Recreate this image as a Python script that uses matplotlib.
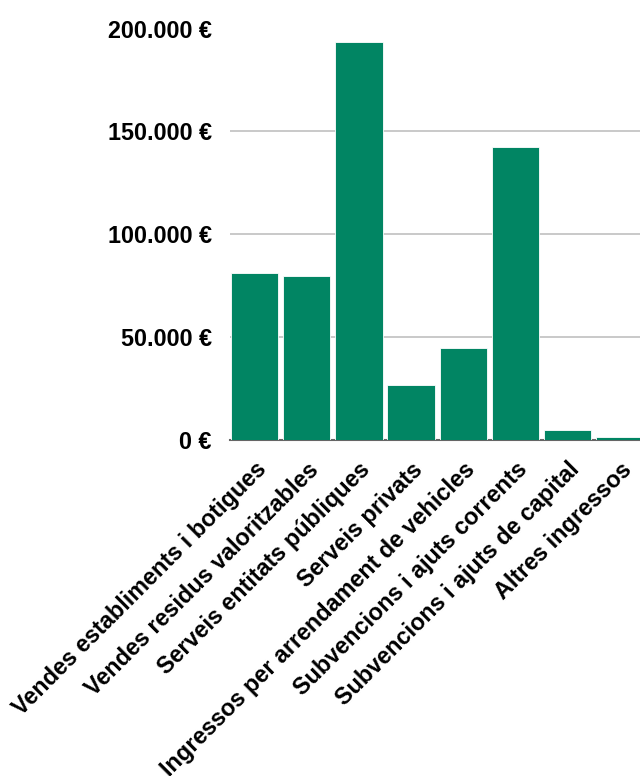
import matplotlib as mpl
mpl.use('Agg')

import matplotlib.pyplot as plt
import matplotlib.ticker as mticker
import numpy as np

plt.rcParams['font.family'] = ['Liberation Sans', 'DejaVu Sans']

# dades
categories = ['Vendes establiments i botigues', 'Vendes residus valoritzables',
              'Serveis entitats públiques', 'Serveis privats',
              'Ingressos per arrendament de vehicles', 'Subvencions i ajuts corrents',
              'Subvencions i ajuts de capital', 'Altres ingressos']
values = [81300, 79600, 193600, 26600, 44900, 142400, 4900, 1300]
yticks = [0, 50000, 100000, 150000, 200000]

bar_color = '#018563'

fig = plt.figure(figsize=(6.4, 7.76), dpi=100)
ax = fig.add_axes([230 / 640, 336 / 776, 410 / 640, 411.5 / 776])

index = np.arange(len(values))
ax.bar(index, values, 0.91, color=bar_color, edgecolor='white', linewidth=0.6, zorder=2)

ax.set_xlim(-0.47, -0.47 + 410 / 52.2)
ax.set_ylim(0, 200000)
ax.set_yticks(yticks)


def euro(v, pos):
    return '{:,.0f} €'.format(v).replace(',', '.')


ax.yaxis.set_major_formatter(mticker.FuncFormatter(euro))
ax.grid(axis='y', color='#c0c0c0', linewidth=1.2, zorder=0)
ax.set_axisbelow(True)

for s in ['top', 'right', 'left']:
    ax.spines[s].set_visible(False)
ax.spines['bottom'].set_color('#666666')
ax.spines['bottom'].set_linewidth(1.5)
ax.spines['bottom'].set_zorder(1)

ax.tick_params(axis='both', length=0)
ax.tick_params(axis='y', pad=13, labelsize=16.8)
ax.tick_params(axis='x', pad=13, labelsize=16.8)

ax.set_xticks(index)
ax.set_xticklabels(categories, rotation=45, ha='right', va='top', rotation_mode='anchor')
for lbl in ax.get_xticklabels() + ax.get_yticklabels():
    lbl.set_fontweight('bold')

plt.savefig('out.png', dpi=100)
